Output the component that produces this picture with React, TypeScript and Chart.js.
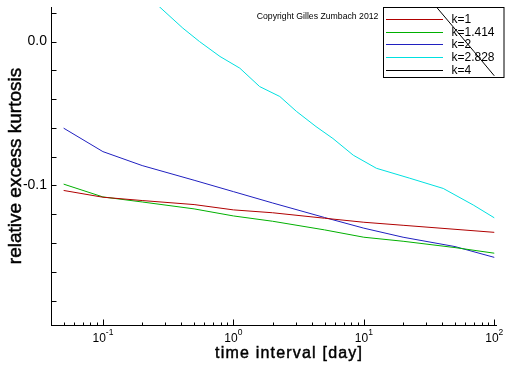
import React, { useEffect, useRef } from "react";
import { Chart, registerables } from "chart.js";

Chart.register(...registerables);

// ---- data ----
const xBase = [0.05, 0.1, 0.2, 0.5, 1, 2, 5, 10, 20, 50, 100];
const k1 = [-0.1035, -0.1082, -0.1105, -0.1133, -0.117, -0.119, -0.1228, -0.1256, -0.1277, -0.1305, -0.1326];
const k1414 = [-0.0991, -0.108, -0.1115, -0.1163, -0.1212, -0.1249, -0.1309, -0.136, -0.1388, -0.1432, -0.1471];
const k2 = [-0.0602, -0.0765, -0.0862, -0.0964, -0.1043, -0.1122, -0.1223, -0.1297, -0.136, -0.1425, -0.15];
const xK2828 = [0.2, 0.27, 0.41, 0.55, 0.79, 1.12, 1.59, 2.27, 3.04, 4.3, 5.8, 8.3, 12.5, 22.5, 40.6, 69, 100];
const k2828 = [0.035, 0.0243, 0.0093, 0.0, -0.0104, -0.0185, -0.0313, -0.0382, -0.0485, -0.0591, -0.0674, -0.079, -0.0881, -0.095, -0.1021, -0.1136, -0.1225];
const xK4 = [30, 36, 50, 70, 100];
const k4 = [0.033, 0.024, 0.0087, -0.007, -0.0238];

const seriesLabels = ["k=1", "k=1.414", "k=2", "k=2.828", "k=4"];
const seriesColors = ["#b00000", "#00b000", "#2020c0", "#00e0e0", "#000000"];

const xTickExponents = [-1, 0, 1, 2];
const yTickValues = [0, -0.1];
const yTickLabels = ["0.0", "-0.1"];
const yMinorTicks = [0.02, 0, -0.02, -0.04, -0.06, -0.08, -0.1, -0.12, -0.14, -0.16, -0.18];

const xTitle = "time interval [day]";
const yTitle = "relative excess kurtosis";
const copyright = "Copyright Gilles Zumbach 2012";

const FONT = "'Liberation Sans', Arial, Helvetica, sans-serif";

const toPoints = (xs: number[], ys: number[]) => xs.map((x, i) => ({ x, y: ys[i] }));

const boldText = (ctx: CanvasRenderingContext2D, text: string, x: number, y: number) => {
  ctx.fillText(text, x, y);
  ctx.lineWidth = 0.45;
  ctx.strokeStyle = "#000";
  ctx.strokeText(text, x, y);
};

const decorPlugin = {
  id: "decor",
  beforeDatasetsDraw(chart: any) {
    const ctx = chart.ctx as CanvasRenderingContext2D;
    ctx.save();
    // copyright
    ctx.fillStyle = "#000";
    ctx.font = `8.7px ${FONT}`;
    ctx.textAlign = "left";
    ctx.textBaseline = "alphabetic";
    ctx.fillText(copyright, 256.7, 19);
    // legend box
    ctx.strokeStyle = "#000";
    ctx.lineWidth = 1;
    ctx.strokeRect(383.5, 7.5, 120.5, 70);
    ctx.font = `12px ${FONT}`;
    ctx.textBaseline = "middle";
    seriesLabels.forEach((label, i) => {
      const y = Math.round(19 + i * 12.7);
      ctx.fillStyle = seriesColors[i];
      ctx.fillRect(386, y, 57, 1);
      ctx.fillStyle = "#000";
      ctx.fillText(label, 451.5, y + 1);
    });
    ctx.restore();
  },
  afterDraw(chart: any) {
    const ctx = chart.ctx as CanvasRenderingContext2D;
    const xs = chart.scales.x;
    const ys = chart.scales.y;
    const ca = chart.chartArea;
    ctx.save();
    ctx.strokeStyle = "#000";
    ctx.lineWidth = 1;
    // y tick marks (inward)
    const ax = Math.round(ca.left) + 0.5;
    yMinorTicks.forEach((v) => {
      const py = Math.round(ys.getPixelForValue(v)) + 0.5;
      ctx.beginPath();
      ctx.moveTo(ax, py);
      ctx.lineTo(ax + 5, py);
      ctx.stroke();
    });
    // x tick marks (inward)
    const ay = Math.round(ca.bottom) + 0.5;
    for (let e = -2; e <= 2; e++) {
      for (let m = 1; m <= 9; m++) {
        const v = m * Math.pow(10, e);
        if (v < xs.min || v > xs.max) continue;
        const px = Math.round(xs.getPixelForValue(v)) + 0.5;
        const len = m === 1 ? 6 : 3;
        ctx.beginPath();
        ctx.moveTo(px, ay);
        ctx.lineTo(px, ay - len);
        ctx.stroke();
      }
    }
    // x tick labels 10^e
    ctx.fillStyle = "#000";
    ctx.textAlign = "left";
    ctx.textBaseline = "alphabetic";
    xTickExponents.forEach((e) => {
      const px = xs.getPixelForValue(Math.pow(10, e));
      ctx.font = `12px ${FONT}`;
      const wb = ctx.measureText("10").width;
      ctx.font = `8.5px ${FONT}`;
      const sup = String(e);
      const wsup = ctx.measureText(sup).width;
      const left = px - (wb + wsup) / 2;
      ctx.font = `12px ${FONT}`;
      ctx.fillText("10", left, ca.bottom + 16.7);
      ctx.font = `8.5px ${FONT}`;
      ctx.fillText(sup, left + wb, ca.bottom + 9.5);
    });
    // x title
    ctx.font = `16px ${FONT}`;
    (ctx as any).letterSpacing = "1.2px";
    ctx.textAlign = "left";
    boldText(ctx, xTitle, 215, 358);
    (ctx as any).letterSpacing = "0px";
    // y title
    ctx.save();
    ctx.translate(20.5, (ca.top + ca.bottom) / 2);
    ctx.rotate(-Math.PI / 2);
    ctx.font = `19px ${FONT}`;
    ctx.textAlign = "center";
    boldText(ctx, yTitle, 0, 0);
    ctx.restore();
    ctx.restore();
  },
};

export default function App() {
  const ref = useRef<HTMLCanvasElement | null>(null);
  useEffect(() => {
    if (!ref.current) return;
    const seriesX = [xBase, xBase, xBase, xK2828, xK4];
    const seriesY = [k1, k1414, k2, k2828, k4];
    const chart = new Chart(ref.current, {
      type: "line",
      data: {
        datasets: seriesLabels.map((label, i) => ({
          label,
          data: toPoints(seriesX[i], seriesY[i]),
          borderColor: seriesColors[i],
          backgroundColor: seriesColors[i],
          borderWidth: 1,
          pointRadius: 0,
          tension: 0,
          fill: false,
        })),
      },
      options: {
        responsive: false,
        animation: false,
        parsing: false as any,
        layout: { padding: { top: 7, right: 15.5, left: 0, bottom: 0 } },
        plugins: {
          legend: { display: false },
          tooltip: { enabled: false },
          title: { display: false },
        },
        scales: {
          x: {
            type: "logarithmic",
            min: 0.04,
            max: 104,
            grid: { display: false, drawTicks: false },
            border: { display: true, color: "#000", width: 1 },
            ticks: { display: false },
            afterFit: (s: any) => {
              s.height = 41;
              s.paddingLeft = 0;
              s.paddingRight = 0;
            },
          },
          y: {
            type: "linear",
            min: -0.197,
            max: 0.024,
            grid: { display: false, drawTicks: false },
            border: { display: true, color: "#000", width: 1 },
            ticks: {
              color: "#000",
              padding: 4,
              font: { family: FONT, size: 14 },
              callback: (v: any) => {
                const i = yTickValues.findIndex((t) => Math.abs(t - Number(v)) < 1e-9);
                return i >= 0 ? yTickLabels[i] : "";
              },
            },
            afterBuildTicks: (s: any) => {
              s.ticks = yTickValues.map((value) => ({ value }));
            },
            afterFit: (s: any) => {
              s.width = 51;
              s.paddingTop = 0;
              s.paddingBottom = 0;
            },
          },
        },
      },
      plugins: [decorPlugin],
    });
    return () => chart.destroy();
  }, []);
  return (
    <div style={{ position: "absolute", left: 0, top: 0, width: 512, height: 366, background: "#fff" }}>
      <canvas ref={ref} width={512} height={366} style={{ display: "block" }} />
    </div>
  );
}
